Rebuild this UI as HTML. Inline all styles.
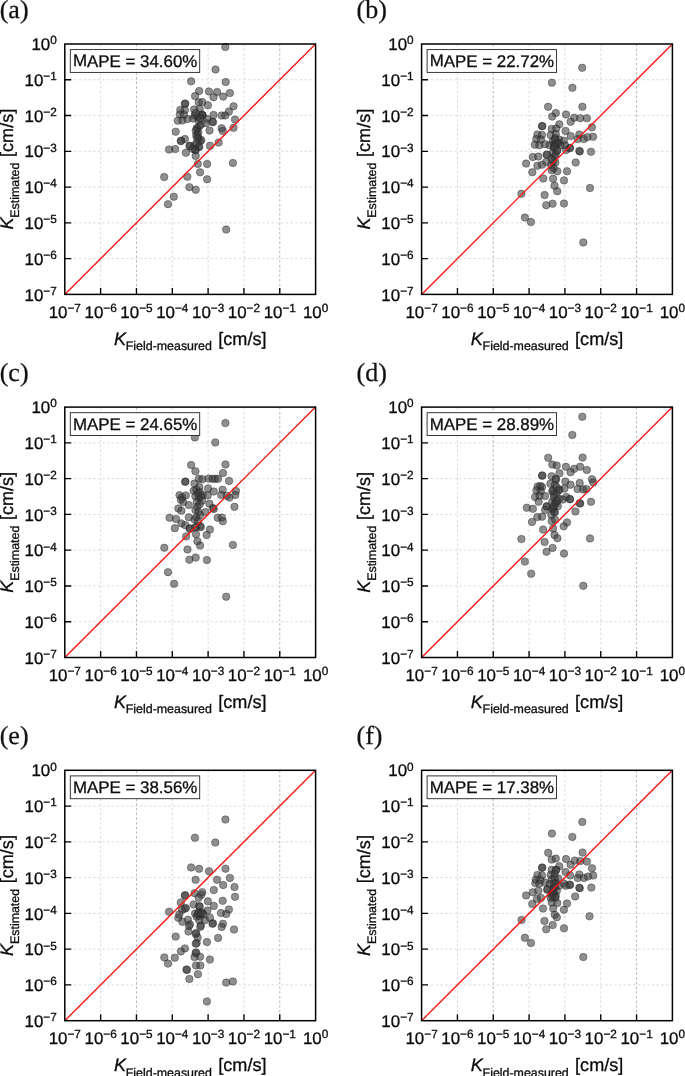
<!DOCTYPE html>
<html><head><meta charset="utf-8"><title>Figure</title>
<style>
html,body{margin:0;padding:0;background:#fff;}
body{width:685px;height:1076px;overflow:hidden;font-family:"Liberation Sans",sans-serif;}
svg{display:block;will-change:transform;}
.t{font-family:"Liberation Sans",sans-serif;fill:#0c0c0c;stroke:#0c0c0c;stroke-width:0.3;text-rendering:geometricPrecision;}
.s{font-family:"Liberation Serif",serif;fill:#111;stroke:#111;stroke-width:0.25;text-rendering:geometricPrecision;}
.g{stroke:#c6c6c6;stroke-width:0.62;stroke-dasharray:2.5 2.2;fill:none;}
.h{stroke:#8c8c8c;stroke-width:0.62;stroke-dasharray:2.5 2.2;fill:none;}
.k{stroke:#000;stroke-width:1.35;fill:none;}
.fr{stroke:#000;stroke-width:1.5;fill:none;}
.d{fill:#3a3a3a;fill-opacity:0.57;stroke:#1a1a1a;stroke-opacity:0.5;stroke-width:0.75;}
.r{stroke:#ff1212;stroke-width:1.35;fill:none;}
</style></head><body>
<svg width="685" height="1076" viewBox="0 0 685 1076">
<rect x="0" y="0" width="685" height="1076" fill="#fff"/>
<g id="panel-a">
<text class="s" x="-0.3" y="17.8" transform="rotate(.02 -0.3 17.8)" font-size="26">(a)</text>
<path class="g" d="M100.63 44V294.4M172.29 44V294.4M208.11 44V294.4M243.94 44V294.4M64.8 79.77H315.6M64.8 115.54H315.6M64.8 151.31H315.6M64.8 187.09H315.6M64.8 222.86H315.6M64.8 258.63H315.6"/>
<path class="h" d="M136.46 44V294.4M279.77 44V294.4"/>
<circle class="d" cx="225.3" cy="47" r="3.75"/>
<circle class="d" cx="215.5" cy="69.5" r="3.75"/>
<circle class="d" cx="191.1" cy="81.3" r="3.75"/>
<circle class="d" cx="225.7" cy="82" r="3.75"/>
<circle class="d" cx="199.2" cy="91" r="3.75"/>
<circle class="d" cx="208.9" cy="91.5" r="3.75"/>
<circle class="d" cx="217.1" cy="92" r="3.75"/>
<circle class="d" cx="229.9" cy="93.1" r="3.75"/>
<circle class="d" cx="195.1" cy="96.1" r="3.75"/>
<circle class="d" cx="213.5" cy="97.2" r="3.75"/>
<circle class="d" cx="223.2" cy="96.6" r="3.75"/>
<circle class="d" cx="184.9" cy="103.8" r="3.75"/>
<circle class="d" cx="185.2" cy="103.5" r="3.75"/>
<circle class="d" cx="198.7" cy="102.3" r="3.75"/>
<circle class="d" cx="202.3" cy="102.1" r="3.75"/>
<circle class="d" cx="207.9" cy="105.3" r="3.75"/>
<circle class="d" cx="180.3" cy="109.9" r="3.75"/>
<circle class="d" cx="184.9" cy="109.9" r="3.75"/>
<circle class="d" cx="194.1" cy="109.4" r="3.75"/>
<circle class="d" cx="199.7" cy="108.9" r="3.75"/>
<circle class="d" cx="179.8" cy="114.5" r="3.75"/>
<circle class="d" cx="183.9" cy="115" r="3.75"/>
<circle class="d" cx="177.8" cy="120.7" r="3.75"/>
<circle class="d" cx="182.4" cy="120.5" r="3.75"/>
<circle class="d" cx="187.5" cy="119.1" r="3.75"/>
<circle class="d" cx="202.3" cy="115" r="3.75"/>
<circle class="d" cx="202.8" cy="115.5" r="3.75"/>
<circle class="d" cx="201.8" cy="114.5" r="3.75"/>
<circle class="d" cx="194.6" cy="115.5" r="3.75"/>
<circle class="d" cx="197.7" cy="117.1" r="3.75"/>
<circle class="d" cx="193.1" cy="118.6" r="3.75"/>
<circle class="d" cx="198.7" cy="120.7" r="3.75"/>
<circle class="d" cx="195.7" cy="113" r="3.75"/>
<circle class="d" cx="200.3" cy="118.1" r="3.75"/>
<circle class="d" cx="213.5" cy="115" r="3.75"/>
<circle class="d" cx="221.7" cy="115.5" r="3.75"/>
<circle class="d" cx="225.3" cy="115.5" r="3.75"/>
<circle class="d" cx="228.9" cy="111.5" r="3.75"/>
<circle class="d" cx="233.5" cy="106.3" r="3.75"/>
<circle class="d" cx="207.4" cy="119.1" r="3.75"/>
<circle class="d" cx="205.9" cy="123.2" r="3.75"/>
<circle class="d" cx="213" cy="122.2" r="3.75"/>
<circle class="d" cx="212.5" cy="121.7" r="3.75"/>
<circle class="d" cx="200.8" cy="124.7" r="3.75"/>
<circle class="d" cx="196.7" cy="128.3" r="3.75"/>
<circle class="d" cx="197.2" cy="128.8" r="3.75"/>
<circle class="d" cx="198.2" cy="131.9" r="3.75"/>
<circle class="d" cx="196.2" cy="135.5" r="3.75"/>
<circle class="d" cx="198.7" cy="138.5" r="3.75"/>
<circle class="d" cx="200.3" cy="141.1" r="3.75"/>
<circle class="d" cx="201.3" cy="140.1" r="3.75"/>
<circle class="d" cx="199.2" cy="126.3" r="3.75"/>
<circle class="d" cx="195.7" cy="130.9" r="3.75"/>
<circle class="d" cx="197.7" cy="135" r="3.75"/>
<circle class="d" cx="197.2" cy="138" r="3.75"/>
<circle class="d" cx="209.5" cy="130.4" r="3.75"/>
<circle class="d" cx="221.7" cy="128.3" r="3.75"/>
<circle class="d" cx="222.7" cy="130.9" r="3.75"/>
<circle class="d" cx="235" cy="119.6" r="3.75"/>
<circle class="d" cx="233.5" cy="127.8" r="3.75"/>
<circle class="d" cx="175.7" cy="131.7" r="3.75"/>
<circle class="d" cx="184.9" cy="139" r="3.75"/>
<circle class="d" cx="180.8" cy="141.1" r="3.75"/>
<circle class="d" cx="181.1" cy="140.8" r="3.75"/>
<circle class="d" cx="189.5" cy="145.7" r="3.75"/>
<circle class="d" cx="190" cy="146.2" r="3.75"/>
<circle class="d" cx="194.6" cy="145.2" r="3.75"/>
<circle class="d" cx="199.2" cy="146.7" r="3.75"/>
<circle class="d" cx="198.7" cy="147.2" r="3.75"/>
<circle class="d" cx="195.7" cy="150.3" r="3.75"/>
<circle class="d" cx="195.1" cy="149.8" r="3.75"/>
<circle class="d" cx="192.6" cy="148.8" r="3.75"/>
<circle class="d" cx="196.7" cy="143.1" r="3.75"/>
<circle class="d" cx="210" cy="145.7" r="3.75"/>
<circle class="d" cx="218.6" cy="142.6" r="3.75"/>
<circle class="d" cx="175.2" cy="149.1" r="3.75"/>
<circle class="d" cx="169.1" cy="149.5" r="3.75"/>
<circle class="d" cx="185.9" cy="152.8" r="3.75"/>
<circle class="d" cx="195.7" cy="155.9" r="3.75"/>
<circle class="d" cx="197.8" cy="163.9" r="3.75"/>
<circle class="d" cx="207.1" cy="163.9" r="3.75"/>
<circle class="d" cx="232.9" cy="163" r="3.75"/>
<circle class="d" cx="200.1" cy="172.3" r="3.75"/>
<circle class="d" cx="187.3" cy="176.7" r="3.75"/>
<circle class="d" cx="207.1" cy="179.3" r="3.75"/>
<circle class="d" cx="164.2" cy="177" r="3.75"/>
<circle class="d" cx="189.4" cy="187.2" r="3.75"/>
<circle class="d" cx="195.7" cy="189.7" r="3.75"/>
<circle class="d" cx="173.8" cy="196.7" r="3.75"/>
<circle class="d" cx="168" cy="204.2" r="3.75"/>
<circle class="d" cx="226.2" cy="229.6" r="3.75"/>
<path class="r" d="M64.8 294.4L315.6 44"/>
<path class="k" d="M100.63 294.4V288M64.8 79.77H71.2M136.46 294.4V288M64.8 115.54H71.2M172.29 294.4V288M64.8 151.31H71.2M208.11 294.4V288M64.8 187.09H71.2M243.94 294.4V288M64.8 222.86H71.2M279.77 294.4V288M64.8 258.63H71.2"/>
<rect class="fr" x="64.8" y="44" width="250.8" height="250.4"/>
<text class="t" x="64.8" y="317.8" transform="rotate(.02 64.8 317.8)" text-anchor="middle" font-size="16.9">10<tspan dy="-5.8" font-size="11.8">−7</tspan></text>
<text class="t" x="56.8" y="300.6" transform="rotate(.02 56.8 300.6)" text-anchor="end" font-size="16.9">10<tspan dy="-5.8" font-size="11.8">−7</tspan></text>
<text class="t" x="100.63" y="317.8" transform="rotate(.02 100.63 317.8)" text-anchor="middle" font-size="16.9">10<tspan dy="-5.8" font-size="11.8">−6</tspan></text>
<text class="t" x="56.8" y="264.83" transform="rotate(.02 56.8 264.83)" text-anchor="end" font-size="16.9">10<tspan dy="-5.8" font-size="11.8">−6</tspan></text>
<text class="t" x="136.46" y="317.8" transform="rotate(.02 136.46 317.8)" text-anchor="middle" font-size="16.9">10<tspan dy="-5.8" font-size="11.8">−5</tspan></text>
<text class="t" x="56.8" y="229.06" transform="rotate(.02 56.8 229.06)" text-anchor="end" font-size="16.9">10<tspan dy="-5.8" font-size="11.8">−5</tspan></text>
<text class="t" x="172.29" y="317.8" transform="rotate(.02 172.29 317.8)" text-anchor="middle" font-size="16.9">10<tspan dy="-5.8" font-size="11.8">−4</tspan></text>
<text class="t" x="56.8" y="193.29" transform="rotate(.02 56.8 193.29)" text-anchor="end" font-size="16.9">10<tspan dy="-5.8" font-size="11.8">−4</tspan></text>
<text class="t" x="208.11" y="317.8" transform="rotate(.02 208.11 317.8)" text-anchor="middle" font-size="16.9">10<tspan dy="-5.8" font-size="11.8">−3</tspan></text>
<text class="t" x="56.8" y="157.51" transform="rotate(.02 56.8 157.51)" text-anchor="end" font-size="16.9">10<tspan dy="-5.8" font-size="11.8">−3</tspan></text>
<text class="t" x="243.94" y="317.8" transform="rotate(.02 243.94 317.8)" text-anchor="middle" font-size="16.9">10<tspan dy="-5.8" font-size="11.8">−2</tspan></text>
<text class="t" x="56.8" y="121.74" transform="rotate(.02 56.8 121.74)" text-anchor="end" font-size="16.9">10<tspan dy="-5.8" font-size="11.8">−2</tspan></text>
<text class="t" x="279.77" y="317.8" transform="rotate(.02 279.77 317.8)" text-anchor="middle" font-size="16.9">10<tspan dy="-5.8" font-size="11.8">−1</tspan></text>
<text class="t" x="56.8" y="85.97" transform="rotate(.02 56.8 85.97)" text-anchor="end" font-size="16.9">10<tspan dy="-5.8" font-size="11.8">−1</tspan></text>
<text class="t" x="315.6" y="317.8" transform="rotate(.02 315.6 317.8)" text-anchor="middle" font-size="16.9">10<tspan dy="-5.8" font-size="11.8">0</tspan></text>
<text class="t" x="56.8" y="50.2" transform="rotate(.02 56.8 50.2)" text-anchor="end" font-size="16.9">10<tspan dy="-5.8" font-size="11.8">0</tspan></text>
<rect x="70.3" y="49.6" width="129.4" height="22.8" fill="#fff" stroke="#222" stroke-width="0.9"/>
<text class="t" x="72.9" y="66.5" transform="rotate(.02 72.9 66.5)" font-size="16.9">MAPE = 34.60%</text>
<text class="t" x="113.9" y="344.7" transform="rotate(.02 113.9 344.7)" font-size="18.1" font-style="italic">K</text>
<text class="t" x="125.8" y="350.3" transform="rotate(.02 125.8 350.3)" font-size="12.4">Field-measured</text>
<text class="t" x="218.3" y="344.7" transform="rotate(.02 218.3 344.7)" font-size="18.1">[cm/s]</text>
<g transform="translate(13.3 169.2) rotate(-90)">
<text class="t" x="-60.4" y="0" font-size="18.1" font-style="italic">K</text>
<text class="t" x="-48.5" y="5.9" font-size="12.4">Estimated</text>
<text class="t" x="12.2" y="0" font-size="18.1">[cm/s]</text>
</g>
</g>
<g id="panel-b">
<text class="s" x="356.5" y="17.8" transform="rotate(.02 356.5 17.8)" font-size="26">(b)</text>
<path class="g" d="M457.43 44V294.4M529.09 44V294.4M564.91 44V294.4M600.74 44V294.4M421.6 79.77H672.4M421.6 115.54H672.4M421.6 151.31H672.4M421.6 187.09H672.4M421.6 222.86H672.4M421.6 258.63H672.4"/>
<path class="h" d="M493.26 44V294.4M636.57 44V294.4"/>
<circle class="d" cx="582.2" cy="67.8" r="3.75"/>
<circle class="d" cx="551.9" cy="82.7" r="3.75"/>
<circle class="d" cx="572.4" cy="87.8" r="3.75"/>
<circle class="d" cx="548.1" cy="106.8" r="3.75"/>
<circle class="d" cx="582.4" cy="106.8" r="3.75"/>
<circle class="d" cx="591.9" cy="127.3" r="3.75"/>
<circle class="d" cx="593.1" cy="136.8" r="3.75"/>
<circle class="d" cx="591" cy="151.8" r="3.75"/>
<circle class="d" cx="555.8" cy="113.1" r="3.75"/>
<circle class="d" cx="552.2" cy="116.6" r="3.75"/>
<circle class="d" cx="566" cy="114.6" r="3.75"/>
<circle class="d" cx="574.2" cy="117.7" r="3.75"/>
<circle class="d" cx="570.6" cy="121.8" r="3.75"/>
<circle class="d" cx="580.3" cy="118.2" r="3.75"/>
<circle class="d" cx="586.9" cy="118.2" r="3.75"/>
<circle class="d" cx="542" cy="126.3" r="3.75"/>
<circle class="d" cx="542.3" cy="126" r="3.75"/>
<circle class="d" cx="559.3" cy="124.3" r="3.75"/>
<circle class="d" cx="551.7" cy="128.9" r="3.75"/>
<circle class="d" cx="556.3" cy="128.4" r="3.75"/>
<circle class="d" cx="565.5" cy="130.9" r="3.75"/>
<circle class="d" cx="570.6" cy="136.1" r="3.75"/>
<circle class="d" cx="579.3" cy="134.5" r="3.75"/>
<circle class="d" cx="577.7" cy="139.1" r="3.75"/>
<circle class="d" cx="583.9" cy="139.1" r="3.75"/>
<circle class="d" cx="587.4" cy="137.1" r="3.75"/>
<circle class="d" cx="537.4" cy="134.5" r="3.75"/>
<circle class="d" cx="542" cy="135" r="3.75"/>
<circle class="d" cx="536.3" cy="139.1" r="3.75"/>
<circle class="d" cx="540.9" cy="139.6" r="3.75"/>
<circle class="d" cx="534.8" cy="144.7" r="3.75"/>
<circle class="d" cx="539.4" cy="145.3" r="3.75"/>
<circle class="d" cx="545" cy="144.2" r="3.75"/>
<circle class="d" cx="550.7" cy="135" r="3.75"/>
<circle class="d" cx="555.8" cy="134" r="3.75"/>
<circle class="d" cx="559.3" cy="139.6" r="3.75"/>
<circle class="d" cx="552.7" cy="141.2" r="3.75"/>
<circle class="d" cx="556.3" cy="143.7" r="3.75"/>
<circle class="d" cx="549.6" cy="145.3" r="3.75"/>
<circle class="d" cx="560.4" cy="145.3" r="3.75"/>
<circle class="d" cx="553.7" cy="147.8" r="3.75"/>
<circle class="d" cx="557.3" cy="150.4" r="3.75"/>
<circle class="d" cx="552.7" cy="152.9" r="3.75"/>
<circle class="d" cx="546.6" cy="154.5" r="3.75"/>
<circle class="d" cx="547.1" cy="155" r="3.75"/>
<circle class="d" cx="554.7" cy="156.5" r="3.75"/>
<circle class="d" cx="551.7" cy="159" r="3.75"/>
<circle class="d" cx="555.3" cy="162.6" r="3.75"/>
<circle class="d" cx="551.2" cy="165.2" r="3.75"/>
<circle class="d" cx="553.7" cy="168.2" r="3.75"/>
<circle class="d" cx="555.3" cy="138.1" r="3.75"/>
<circle class="d" cx="554.2" cy="144.7" r="3.75"/>
<circle class="d" cx="555.8" cy="153.9" r="3.75"/>
<circle class="d" cx="553.2" cy="161.1" r="3.75"/>
<circle class="d" cx="558.3" cy="142.7" r="3.75"/>
<circle class="d" cx="555" cy="139.5" r="3.75"/>
<circle class="d" cx="556.5" cy="143.5" r="3.75"/>
<circle class="d" cx="554.5" cy="147" r="3.75"/>
<circle class="d" cx="557" cy="150.5" r="3.75"/>
<circle class="d" cx="563.9" cy="140.7" r="3.75"/>
<circle class="d" cx="565" cy="145.3" r="3.75"/>
<circle class="d" cx="570.1" cy="147.8" r="3.75"/>
<circle class="d" cx="569.6" cy="148.3" r="3.75"/>
<circle class="d" cx="566" cy="149.9" r="3.75"/>
<circle class="d" cx="579.8" cy="151.4" r="3.75"/>
<circle class="d" cx="579.3" cy="150.9" r="3.75"/>
<circle class="d" cx="532.8" cy="157" r="3.75"/>
<circle class="d" cx="538.4" cy="156.5" r="3.75"/>
<circle class="d" cx="526.1" cy="163.6" r="3.75"/>
<circle class="d" cx="537.4" cy="165.7" r="3.75"/>
<circle class="d" cx="542" cy="164.7" r="3.75"/>
<circle class="d" cx="546.1" cy="162.1" r="3.75"/>
<circle class="d" cx="575.7" cy="162.6" r="3.75"/>
<circle class="d" cx="532.3" cy="172.3" r="3.75"/>
<circle class="d" cx="551.7" cy="170.3" r="3.75"/>
<circle class="d" cx="557.3" cy="171.3" r="3.75"/>
<circle class="d" cx="567" cy="171.3" r="3.75"/>
<circle class="d" cx="543.3" cy="178.5" r="3.75"/>
<circle class="d" cx="553.1" cy="178.8" r="3.75"/>
<circle class="d" cx="564" cy="180.4" r="3.75"/>
<circle class="d" cx="554.5" cy="185.8" r="3.75"/>
<circle class="d" cx="557.2" cy="191.2" r="3.75"/>
<circle class="d" cx="590" cy="188" r="3.75"/>
<circle class="d" cx="521.4" cy="193.8" r="3.75"/>
<circle class="d" cx="544.6" cy="195" r="3.75"/>
<circle class="d" cx="552.6" cy="203.7" r="3.75"/>
<circle class="d" cx="546.2" cy="205.2" r="3.75"/>
<circle class="d" cx="564" cy="203.6" r="3.75"/>
<circle class="d" cx="524.9" cy="217.6" r="3.75"/>
<circle class="d" cx="530.9" cy="222" r="3.75"/>
<circle class="d" cx="583.3" cy="242.4" r="3.75"/>
<path class="r" d="M421.6 294.4L672.4 44"/>
<path class="k" d="M457.43 294.4V288M421.6 79.77H428M493.26 294.4V288M421.6 115.54H428M529.09 294.4V288M421.6 151.31H428M564.91 294.4V288M421.6 187.09H428M600.74 294.4V288M421.6 222.86H428M636.57 294.4V288M421.6 258.63H428"/>
<rect class="fr" x="421.6" y="44" width="250.8" height="250.4"/>
<text class="t" x="421.6" y="317.8" transform="rotate(.02 421.6 317.8)" text-anchor="middle" font-size="16.9">10<tspan dy="-5.8" font-size="11.8">−7</tspan></text>
<text class="t" x="413.6" y="300.6" transform="rotate(.02 413.6 300.6)" text-anchor="end" font-size="16.9">10<tspan dy="-5.8" font-size="11.8">−7</tspan></text>
<text class="t" x="457.43" y="317.8" transform="rotate(.02 457.43 317.8)" text-anchor="middle" font-size="16.9">10<tspan dy="-5.8" font-size="11.8">−6</tspan></text>
<text class="t" x="413.6" y="264.83" transform="rotate(.02 413.6 264.83)" text-anchor="end" font-size="16.9">10<tspan dy="-5.8" font-size="11.8">−6</tspan></text>
<text class="t" x="493.26" y="317.8" transform="rotate(.02 493.26 317.8)" text-anchor="middle" font-size="16.9">10<tspan dy="-5.8" font-size="11.8">−5</tspan></text>
<text class="t" x="413.6" y="229.06" transform="rotate(.02 413.6 229.06)" text-anchor="end" font-size="16.9">10<tspan dy="-5.8" font-size="11.8">−5</tspan></text>
<text class="t" x="529.09" y="317.8" transform="rotate(.02 529.09 317.8)" text-anchor="middle" font-size="16.9">10<tspan dy="-5.8" font-size="11.8">−4</tspan></text>
<text class="t" x="413.6" y="193.29" transform="rotate(.02 413.6 193.29)" text-anchor="end" font-size="16.9">10<tspan dy="-5.8" font-size="11.8">−4</tspan></text>
<text class="t" x="564.91" y="317.8" transform="rotate(.02 564.91 317.8)" text-anchor="middle" font-size="16.9">10<tspan dy="-5.8" font-size="11.8">−3</tspan></text>
<text class="t" x="413.6" y="157.51" transform="rotate(.02 413.6 157.51)" text-anchor="end" font-size="16.9">10<tspan dy="-5.8" font-size="11.8">−3</tspan></text>
<text class="t" x="600.74" y="317.8" transform="rotate(.02 600.74 317.8)" text-anchor="middle" font-size="16.9">10<tspan dy="-5.8" font-size="11.8">−2</tspan></text>
<text class="t" x="413.6" y="121.74" transform="rotate(.02 413.6 121.74)" text-anchor="end" font-size="16.9">10<tspan dy="-5.8" font-size="11.8">−2</tspan></text>
<text class="t" x="636.57" y="317.8" transform="rotate(.02 636.57 317.8)" text-anchor="middle" font-size="16.9">10<tspan dy="-5.8" font-size="11.8">−1</tspan></text>
<text class="t" x="413.6" y="85.97" transform="rotate(.02 413.6 85.97)" text-anchor="end" font-size="16.9">10<tspan dy="-5.8" font-size="11.8">−1</tspan></text>
<text class="t" x="672.4" y="317.8" transform="rotate(.02 672.4 317.8)" text-anchor="middle" font-size="16.9">10<tspan dy="-5.8" font-size="11.8">0</tspan></text>
<text class="t" x="413.6" y="50.2" transform="rotate(.02 413.6 50.2)" text-anchor="end" font-size="16.9">10<tspan dy="-5.8" font-size="11.8">0</tspan></text>
<rect x="427.1" y="49.6" width="129.4" height="22.8" fill="#fff" stroke="#222" stroke-width="0.9"/>
<text class="t" x="429.7" y="66.5" transform="rotate(.02 429.7 66.5)" font-size="16.9">MAPE = 22.72%</text>
<text class="t" x="470.7" y="344.7" transform="rotate(.02 470.7 344.7)" font-size="18.1" font-style="italic">K</text>
<text class="t" x="482.6" y="350.3" transform="rotate(.02 482.6 350.3)" font-size="12.4">Field-measured</text>
<text class="t" x="575.1" y="344.7" transform="rotate(.02 575.1 344.7)" font-size="18.1">[cm/s]</text>
<g transform="translate(370.1 169.2) rotate(-90)">
<text class="t" x="-60.4" y="0" font-size="18.1" font-style="italic">K</text>
<text class="t" x="-48.5" y="5.9" font-size="12.4">Estimated</text>
<text class="t" x="12.2" y="0" font-size="18.1">[cm/s]</text>
</g>
</g>
<g id="panel-c">
<text class="s" x="-0.3" y="380.9" transform="rotate(.02 -0.3 380.9)" font-size="26">(c)</text>
<path class="g" d="M100.63 407.1V657.5M172.29 407.1V657.5M208.11 407.1V657.5M243.94 407.1V657.5M64.8 442.87H315.6M64.8 478.64H315.6M64.8 514.41H315.6M64.8 550.19H315.6M64.8 585.96H315.6M64.8 621.73H315.6"/>
<path class="h" d="M136.46 407.1V657.5M279.77 407.1V657.5"/>
<circle class="d" cx="225.4" cy="423.1" r="3.75"/>
<circle class="d" cx="194.9" cy="437.4" r="3.75"/>
<circle class="d" cx="215.3" cy="442.4" r="3.75"/>
<circle class="d" cx="191.1" cy="465" r="3.75"/>
<circle class="d" cx="225.5" cy="464.5" r="3.75"/>
<circle class="d" cx="195.4" cy="471.3" r="3.75"/>
<circle class="d" cx="223" cy="473.1" r="3.75"/>
<circle class="d" cx="198.9" cy="478.8" r="3.75"/>
<circle class="d" cx="202.4" cy="479.2" r="3.75"/>
<circle class="d" cx="208.5" cy="478.6" r="3.75"/>
<circle class="d" cx="212.5" cy="478.8" r="3.75"/>
<circle class="d" cx="215.1" cy="478.8" r="3.75"/>
<circle class="d" cx="218" cy="478.8" r="3.75"/>
<circle class="d" cx="229.1" cy="480.9" r="3.75"/>
<circle class="d" cx="185.2" cy="481.8" r="3.75"/>
<circle class="d" cx="185.4" cy="481.6" r="3.75"/>
<circle class="d" cx="194.5" cy="483.6" r="3.75"/>
<circle class="d" cx="199.3" cy="487.1" r="3.75"/>
<circle class="d" cx="196.3" cy="489.7" r="3.75"/>
<circle class="d" cx="193.6" cy="490.8" r="3.75"/>
<circle class="d" cx="199.8" cy="491.9" r="3.75"/>
<circle class="d" cx="202.8" cy="495" r="3.75"/>
<circle class="d" cx="195.4" cy="496.3" r="3.75"/>
<circle class="d" cx="198.9" cy="498" r="3.75"/>
<circle class="d" cx="202" cy="500.7" r="3.75"/>
<circle class="d" cx="196.7" cy="502" r="3.75"/>
<circle class="d" cx="199.8" cy="504.2" r="3.75"/>
<circle class="d" cx="197.2" cy="506.8" r="3.75"/>
<circle class="d" cx="195.4" cy="509.9" r="3.75"/>
<circle class="d" cx="198.5" cy="512" r="3.75"/>
<circle class="d" cx="200.2" cy="515.1" r="3.75"/>
<circle class="d" cx="196.3" cy="517.3" r="3.75"/>
<circle class="d" cx="194.5" cy="519.5" r="3.75"/>
<circle class="d" cx="198" cy="521.2" r="3.75"/>
<circle class="d" cx="200.7" cy="496.3" r="3.75"/>
<circle class="d" cx="198" cy="493.6" r="3.75"/>
<circle class="d" cx="208.1" cy="488.4" r="3.75"/>
<circle class="d" cx="213.8" cy="491.5" r="3.75"/>
<circle class="d" cx="207.7" cy="495.4" r="3.75"/>
<circle class="d" cx="222.6" cy="489.7" r="3.75"/>
<circle class="d" cx="221.2" cy="495" r="3.75"/>
<circle class="d" cx="226.9" cy="495.8" r="3.75"/>
<circle class="d" cx="179.5" cy="495.2" r="3.75"/>
<circle class="d" cx="182.1" cy="497.3" r="3.75"/>
<circle class="d" cx="185.8" cy="495.4" r="3.75"/>
<circle class="d" cx="183.1" cy="502" r="3.75"/>
<circle class="d" cx="180.9" cy="499.8" r="3.75"/>
<circle class="d" cx="188.8" cy="505" r="3.75"/>
<circle class="d" cx="209.4" cy="503.7" r="3.75"/>
<circle class="d" cx="212.9" cy="508.1" r="3.75"/>
<circle class="d" cx="213.8" cy="509" r="3.75"/>
<circle class="d" cx="205.5" cy="512" r="3.75"/>
<circle class="d" cx="178.3" cy="508.5" r="3.75"/>
<circle class="d" cx="181.4" cy="510.7" r="3.75"/>
<circle class="d" cx="188.8" cy="517.3" r="3.75"/>
<circle class="d" cx="217.7" cy="517.7" r="3.75"/>
<circle class="d" cx="221.9" cy="517.5" r="3.75"/>
<circle class="d" cx="222.8" cy="521.2" r="3.75"/>
<circle class="d" cx="176.1" cy="519" r="3.75"/>
<circle class="d" cx="169.6" cy="517.7" r="3.75"/>
<circle class="d" cx="181.4" cy="523.4" r="3.75"/>
<circle class="d" cx="185.3" cy="525.2" r="3.75"/>
<circle class="d" cx="174.8" cy="528.2" r="3.75"/>
<circle class="d" cx="189.7" cy="528.2" r="3.75"/>
<circle class="d" cx="196.3" cy="526.9" r="3.75"/>
<circle class="d" cx="200.2" cy="526.1" r="3.75"/>
<circle class="d" cx="209.9" cy="529.6" r="3.75"/>
<circle class="d" cx="236" cy="491" r="3.75"/>
<circle class="d" cx="235.3" cy="495" r="3.75"/>
<circle class="d" cx="229.5" cy="497.6" r="3.75"/>
<circle class="d" cx="234.5" cy="506.8" r="3.75"/>
<circle class="d" cx="189.9" cy="528.9" r="3.75"/>
<circle class="d" cx="200.8" cy="527.2" r="3.75"/>
<circle class="d" cx="195" cy="527.5" r="3.75"/>
<circle class="d" cx="196" cy="534.2" r="3.75"/>
<circle class="d" cx="206.6" cy="534.9" r="3.75"/>
<circle class="d" cx="186.1" cy="536.4" r="3.75"/>
<circle class="d" cx="197.4" cy="541.2" r="3.75"/>
<circle class="d" cx="200.1" cy="545.6" r="3.75"/>
<circle class="d" cx="232.9" cy="544.9" r="3.75"/>
<circle class="d" cx="164.3" cy="547.8" r="3.75"/>
<circle class="d" cx="187.5" cy="549.5" r="3.75"/>
<circle class="d" cx="195.7" cy="557.6" r="3.75"/>
<circle class="d" cx="189.4" cy="559.7" r="3.75"/>
<circle class="d" cx="206.9" cy="560" r="3.75"/>
<circle class="d" cx="168" cy="572.2" r="3.75"/>
<circle class="d" cx="174.1" cy="583.8" r="3.75"/>
<circle class="d" cx="226.2" cy="596.7" r="3.75"/>
<path class="r" d="M64.8 657.5L315.6 407.1"/>
<path class="k" d="M100.63 657.5V651.1M64.8 442.87H71.2M136.46 657.5V651.1M64.8 478.64H71.2M172.29 657.5V651.1M64.8 514.41H71.2M208.11 657.5V651.1M64.8 550.19H71.2M243.94 657.5V651.1M64.8 585.96H71.2M279.77 657.5V651.1M64.8 621.73H71.2"/>
<rect class="fr" x="64.8" y="407.1" width="250.8" height="250.4"/>
<text class="t" x="64.8" y="680.9" transform="rotate(.02 64.8 680.9)" text-anchor="middle" font-size="16.9">10<tspan dy="-5.8" font-size="11.8">−7</tspan></text>
<text class="t" x="56.8" y="663.7" transform="rotate(.02 56.8 663.7)" text-anchor="end" font-size="16.9">10<tspan dy="-5.8" font-size="11.8">−7</tspan></text>
<text class="t" x="100.63" y="680.9" transform="rotate(.02 100.63 680.9)" text-anchor="middle" font-size="16.9">10<tspan dy="-5.8" font-size="11.8">−6</tspan></text>
<text class="t" x="56.8" y="627.93" transform="rotate(.02 56.8 627.93)" text-anchor="end" font-size="16.9">10<tspan dy="-5.8" font-size="11.8">−6</tspan></text>
<text class="t" x="136.46" y="680.9" transform="rotate(.02 136.46 680.9)" text-anchor="middle" font-size="16.9">10<tspan dy="-5.8" font-size="11.8">−5</tspan></text>
<text class="t" x="56.8" y="592.16" transform="rotate(.02 56.8 592.16)" text-anchor="end" font-size="16.9">10<tspan dy="-5.8" font-size="11.8">−5</tspan></text>
<text class="t" x="172.29" y="680.9" transform="rotate(.02 172.29 680.9)" text-anchor="middle" font-size="16.9">10<tspan dy="-5.8" font-size="11.8">−4</tspan></text>
<text class="t" x="56.8" y="556.39" transform="rotate(.02 56.8 556.39)" text-anchor="end" font-size="16.9">10<tspan dy="-5.8" font-size="11.8">−4</tspan></text>
<text class="t" x="208.11" y="680.9" transform="rotate(.02 208.11 680.9)" text-anchor="middle" font-size="16.9">10<tspan dy="-5.8" font-size="11.8">−3</tspan></text>
<text class="t" x="56.8" y="520.61" transform="rotate(.02 56.8 520.61)" text-anchor="end" font-size="16.9">10<tspan dy="-5.8" font-size="11.8">−3</tspan></text>
<text class="t" x="243.94" y="680.9" transform="rotate(.02 243.94 680.9)" text-anchor="middle" font-size="16.9">10<tspan dy="-5.8" font-size="11.8">−2</tspan></text>
<text class="t" x="56.8" y="484.84" transform="rotate(.02 56.8 484.84)" text-anchor="end" font-size="16.9">10<tspan dy="-5.8" font-size="11.8">−2</tspan></text>
<text class="t" x="279.77" y="680.9" transform="rotate(.02 279.77 680.9)" text-anchor="middle" font-size="16.9">10<tspan dy="-5.8" font-size="11.8">−1</tspan></text>
<text class="t" x="56.8" y="449.07" transform="rotate(.02 56.8 449.07)" text-anchor="end" font-size="16.9">10<tspan dy="-5.8" font-size="11.8">−1</tspan></text>
<text class="t" x="315.6" y="680.9" transform="rotate(.02 315.6 680.9)" text-anchor="middle" font-size="16.9">10<tspan dy="-5.8" font-size="11.8">0</tspan></text>
<text class="t" x="56.8" y="413.3" transform="rotate(.02 56.8 413.3)" text-anchor="end" font-size="16.9">10<tspan dy="-5.8" font-size="11.8">0</tspan></text>
<rect x="70.3" y="412.7" width="129.4" height="22.8" fill="#fff" stroke="#222" stroke-width="0.9"/>
<text class="t" x="72.9" y="429.6" transform="rotate(.02 72.9 429.6)" font-size="16.9">MAPE = 24.65%</text>
<text class="t" x="113.9" y="707.8" transform="rotate(.02 113.9 707.8)" font-size="18.1" font-style="italic">K</text>
<text class="t" x="125.8" y="713.4" transform="rotate(.02 125.8 713.4)" font-size="12.4">Field-measured</text>
<text class="t" x="218.3" y="707.8" transform="rotate(.02 218.3 707.8)" font-size="18.1">[cm/s]</text>
<g transform="translate(13.3 532.3) rotate(-90)">
<text class="t" x="-60.4" y="0" font-size="18.1" font-style="italic">K</text>
<text class="t" x="-48.5" y="5.9" font-size="12.4">Estimated</text>
<text class="t" x="12.2" y="0" font-size="18.1">[cm/s]</text>
</g>
</g>
<g id="panel-d">
<text class="s" x="356.5" y="380.9" transform="rotate(.02 356.5 380.9)" font-size="26">(d)</text>
<path class="g" d="M457.43 407.1V657.5M529.09 407.1V657.5M564.91 407.1V657.5M600.74 407.1V657.5M421.6 442.87H672.4M421.6 478.64H672.4M421.6 514.41H672.4M421.6 550.19H672.4M421.6 585.96H672.4M421.6 621.73H672.4"/>
<path class="h" d="M493.26 407.1V657.5M636.57 407.1V657.5"/>
<circle class="d" cx="582.3" cy="416.7" r="3.75"/>
<circle class="d" cx="572.3" cy="434.9" r="3.75"/>
<circle class="d" cx="548.2" cy="457.8" r="3.75"/>
<circle class="d" cx="582.6" cy="457.6" r="3.75"/>
<circle class="d" cx="552.3" cy="464.6" r="3.75"/>
<circle class="d" cx="556.7" cy="465.6" r="3.75"/>
<circle class="d" cx="565.9" cy="466.8" r="3.75"/>
<circle class="d" cx="574.2" cy="468.8" r="3.75"/>
<circle class="d" cx="580.1" cy="466.8" r="3.75"/>
<circle class="d" cx="586.9" cy="470" r="3.75"/>
<circle class="d" cx="570.6" cy="472.2" r="3.75"/>
<circle class="d" cx="592" cy="479.2" r="3.75"/>
<circle class="d" cx="593.2" cy="482.4" r="3.75"/>
<circle class="d" cx="542.1" cy="475.7" r="3.75"/>
<circle class="d" cx="542.3" cy="475.4" r="3.75"/>
<circle class="d" cx="559.4" cy="473.3" r="3.75"/>
<circle class="d" cx="551.5" cy="476.2" r="3.75"/>
<circle class="d" cx="556.1" cy="479.5" r="3.75"/>
<circle class="d" cx="555.7" cy="479" r="3.75"/>
<circle class="d" cx="565.3" cy="481.6" r="3.75"/>
<circle class="d" cx="570.5" cy="484.7" r="3.75"/>
<circle class="d" cx="579.7" cy="483" r="3.75"/>
<circle class="d" cx="577.6" cy="489.1" r="3.75"/>
<circle class="d" cx="583.2" cy="489.5" r="3.75"/>
<circle class="d" cx="586.3" cy="489.1" r="3.75"/>
<circle class="d" cx="550.4" cy="483.8" r="3.75"/>
<circle class="d" cx="537.7" cy="486.5" r="3.75"/>
<circle class="d" cx="542.1" cy="486.9" r="3.75"/>
<circle class="d" cx="540.3" cy="486" r="3.75"/>
<circle class="d" cx="536.4" cy="490.4" r="3.75"/>
<circle class="d" cx="540.8" cy="491.3" r="3.75"/>
<circle class="d" cx="535.1" cy="497" r="3.75"/>
<circle class="d" cx="539.5" cy="495.7" r="3.75"/>
<circle class="d" cx="545.1" cy="496.1" r="3.75"/>
<circle class="d" cx="538.6" cy="501.8" r="3.75"/>
<circle class="d" cx="554.8" cy="485.1" r="3.75"/>
<circle class="d" cx="559.6" cy="489.5" r="3.75"/>
<circle class="d" cx="558.7" cy="490.4" r="3.75"/>
<circle class="d" cx="552.2" cy="491.3" r="3.75"/>
<circle class="d" cx="553" cy="490.4" r="3.75"/>
<circle class="d" cx="556.5" cy="493.9" r="3.75"/>
<circle class="d" cx="553.9" cy="497.4" r="3.75"/>
<circle class="d" cx="559.2" cy="498.7" r="3.75"/>
<circle class="d" cx="552.2" cy="501.8" r="3.75"/>
<circle class="d" cx="555.7" cy="503.5" r="3.75"/>
<circle class="d" cx="555.2" cy="502.7" r="3.75"/>
<circle class="d" cx="557.8" cy="506.2" r="3.75"/>
<circle class="d" cx="552.2" cy="508.8" r="3.75"/>
<circle class="d" cx="553" cy="509.2" r="3.75"/>
<circle class="d" cx="554.8" cy="512.3" r="3.75"/>
<circle class="d" cx="554.3" cy="511.9" r="3.75"/>
<circle class="d" cx="551.3" cy="514.9" r="3.75"/>
<circle class="d" cx="556.5" cy="486.9" r="3.75"/>
<circle class="d" cx="553.9" cy="494.3" r="3.75"/>
<circle class="d" cx="557.4" cy="500.9" r="3.75"/>
<circle class="d" cx="553.9" cy="506.2" r="3.75"/>
<circle class="d" cx="564.4" cy="488.6" r="3.75"/>
<circle class="d" cx="566.2" cy="497" r="3.75"/>
<circle class="d" cx="562.7" cy="499.6" r="3.75"/>
<circle class="d" cx="570.1" cy="499.3" r="3.75"/>
<circle class="d" cx="569.7" cy="499" r="3.75"/>
<circle class="d" cx="546.5" cy="506.6" r="3.75"/>
<circle class="d" cx="546.9" cy="506.2" r="3.75"/>
<circle class="d" cx="545.1" cy="510.1" r="3.75"/>
<circle class="d" cx="526.8" cy="507.7" r="3.75"/>
<circle class="d" cx="532.9" cy="508.8" r="3.75"/>
<circle class="d" cx="580.2" cy="503.5" r="3.75"/>
<circle class="d" cx="579.7" cy="503.2" r="3.75"/>
<circle class="d" cx="575.4" cy="511.4" r="3.75"/>
<circle class="d" cx="537.3" cy="517.1" r="3.75"/>
<circle class="d" cx="542.1" cy="516.7" r="3.75"/>
<circle class="d" cx="532" cy="521.9" r="3.75"/>
<circle class="d" cx="551.7" cy="521.1" r="3.75"/>
<circle class="d" cx="555.2" cy="519.7" r="3.75"/>
<circle class="d" cx="567" cy="522.4" r="3.75"/>
<circle class="d" cx="591" cy="501.8" r="3.75"/>
<circle class="d" cx="563.7" cy="526.3" r="3.75"/>
<circle class="d" cx="543.1" cy="529.6" r="3.75"/>
<circle class="d" cx="553.1" cy="528.5" r="3.75"/>
<circle class="d" cx="554.5" cy="535" r="3.75"/>
<circle class="d" cx="557.4" cy="538.2" r="3.75"/>
<circle class="d" cx="590" cy="538.4" r="3.75"/>
<circle class="d" cx="521.4" cy="539.1" r="3.75"/>
<circle class="d" cx="544.6" cy="542" r="3.75"/>
<circle class="d" cx="552.6" cy="547.9" r="3.75"/>
<circle class="d" cx="546.5" cy="551.8" r="3.75"/>
<circle class="d" cx="564" cy="553.6" r="3.75"/>
<circle class="d" cx="524.9" cy="561.6" r="3.75"/>
<circle class="d" cx="531.2" cy="573.7" r="3.75"/>
<circle class="d" cx="583.3" cy="585.8" r="3.75"/>
<path class="r" d="M421.6 657.5L672.4 407.1"/>
<path class="k" d="M457.43 657.5V651.1M421.6 442.87H428M493.26 657.5V651.1M421.6 478.64H428M529.09 657.5V651.1M421.6 514.41H428M564.91 657.5V651.1M421.6 550.19H428M600.74 657.5V651.1M421.6 585.96H428M636.57 657.5V651.1M421.6 621.73H428"/>
<rect class="fr" x="421.6" y="407.1" width="250.8" height="250.4"/>
<text class="t" x="421.6" y="680.9" transform="rotate(.02 421.6 680.9)" text-anchor="middle" font-size="16.9">10<tspan dy="-5.8" font-size="11.8">−7</tspan></text>
<text class="t" x="413.6" y="663.7" transform="rotate(.02 413.6 663.7)" text-anchor="end" font-size="16.9">10<tspan dy="-5.8" font-size="11.8">−7</tspan></text>
<text class="t" x="457.43" y="680.9" transform="rotate(.02 457.43 680.9)" text-anchor="middle" font-size="16.9">10<tspan dy="-5.8" font-size="11.8">−6</tspan></text>
<text class="t" x="413.6" y="627.93" transform="rotate(.02 413.6 627.93)" text-anchor="end" font-size="16.9">10<tspan dy="-5.8" font-size="11.8">−6</tspan></text>
<text class="t" x="493.26" y="680.9" transform="rotate(.02 493.26 680.9)" text-anchor="middle" font-size="16.9">10<tspan dy="-5.8" font-size="11.8">−5</tspan></text>
<text class="t" x="413.6" y="592.16" transform="rotate(.02 413.6 592.16)" text-anchor="end" font-size="16.9">10<tspan dy="-5.8" font-size="11.8">−5</tspan></text>
<text class="t" x="529.09" y="680.9" transform="rotate(.02 529.09 680.9)" text-anchor="middle" font-size="16.9">10<tspan dy="-5.8" font-size="11.8">−4</tspan></text>
<text class="t" x="413.6" y="556.39" transform="rotate(.02 413.6 556.39)" text-anchor="end" font-size="16.9">10<tspan dy="-5.8" font-size="11.8">−4</tspan></text>
<text class="t" x="564.91" y="680.9" transform="rotate(.02 564.91 680.9)" text-anchor="middle" font-size="16.9">10<tspan dy="-5.8" font-size="11.8">−3</tspan></text>
<text class="t" x="413.6" y="520.61" transform="rotate(.02 413.6 520.61)" text-anchor="end" font-size="16.9">10<tspan dy="-5.8" font-size="11.8">−3</tspan></text>
<text class="t" x="600.74" y="680.9" transform="rotate(.02 600.74 680.9)" text-anchor="middle" font-size="16.9">10<tspan dy="-5.8" font-size="11.8">−2</tspan></text>
<text class="t" x="413.6" y="484.84" transform="rotate(.02 413.6 484.84)" text-anchor="end" font-size="16.9">10<tspan dy="-5.8" font-size="11.8">−2</tspan></text>
<text class="t" x="636.57" y="680.9" transform="rotate(.02 636.57 680.9)" text-anchor="middle" font-size="16.9">10<tspan dy="-5.8" font-size="11.8">−1</tspan></text>
<text class="t" x="413.6" y="449.07" transform="rotate(.02 413.6 449.07)" text-anchor="end" font-size="16.9">10<tspan dy="-5.8" font-size="11.8">−1</tspan></text>
<text class="t" x="672.4" y="680.9" transform="rotate(.02 672.4 680.9)" text-anchor="middle" font-size="16.9">10<tspan dy="-5.8" font-size="11.8">0</tspan></text>
<text class="t" x="413.6" y="413.3" transform="rotate(.02 413.6 413.3)" text-anchor="end" font-size="16.9">10<tspan dy="-5.8" font-size="11.8">0</tspan></text>
<rect x="427.1" y="412.7" width="129.4" height="22.8" fill="#fff" stroke="#222" stroke-width="0.9"/>
<text class="t" x="429.7" y="429.6" transform="rotate(.02 429.7 429.6)" font-size="16.9">MAPE = 28.89%</text>
<text class="t" x="470.7" y="707.8" transform="rotate(.02 470.7 707.8)" font-size="18.1" font-style="italic">K</text>
<text class="t" x="482.6" y="713.4" transform="rotate(.02 482.6 713.4)" font-size="12.4">Field-measured</text>
<text class="t" x="575.1" y="707.8" transform="rotate(.02 575.1 707.8)" font-size="18.1">[cm/s]</text>
<g transform="translate(370.1 532.3) rotate(-90)">
<text class="t" x="-60.4" y="0" font-size="18.1" font-style="italic">K</text>
<text class="t" x="-48.5" y="5.9" font-size="12.4">Estimated</text>
<text class="t" x="12.2" y="0" font-size="18.1">[cm/s]</text>
</g>
</g>
<g id="panel-e">
<text class="s" x="-0.3" y="744.1" transform="rotate(.02 -0.3 744.1)" font-size="26">(e)</text>
<path class="g" d="M100.63 770.3V1020.7M172.29 770.3V1020.7M208.11 770.3V1020.7M243.94 770.3V1020.7M64.8 806.07H315.6M64.8 841.84H315.6M64.8 877.61H315.6M64.8 913.39H315.6M64.8 949.16H315.6M64.8 984.93H315.6"/>
<path class="h" d="M136.46 770.3V1020.7M279.77 770.3V1020.7"/>
<circle class="d" cx="225.4" cy="819.5" r="3.75"/>
<circle class="d" cx="194.9" cy="837.7" r="3.75"/>
<circle class="d" cx="215.3" cy="842.6" r="3.75"/>
<circle class="d" cx="191.1" cy="867.4" r="3.75"/>
<circle class="d" cx="199.1" cy="868.8" r="3.75"/>
<circle class="d" cx="209" cy="871.3" r="3.75"/>
<circle class="d" cx="225.5" cy="868.7" r="3.75"/>
<circle class="d" cx="195.6" cy="879.8" r="3.75"/>
<circle class="d" cx="217" cy="879.8" r="3.75"/>
<circle class="d" cx="229.9" cy="877.9" r="3.75"/>
<circle class="d" cx="184.9" cy="895.5" r="3.75"/>
<circle class="d" cx="185.2" cy="895.2" r="3.75"/>
<circle class="d" cx="194.6" cy="893.2" r="3.75"/>
<circle class="d" cx="202.3" cy="892.2" r="3.75"/>
<circle class="d" cx="201.3" cy="894.7" r="3.75"/>
<circle class="d" cx="198.7" cy="897.8" r="3.75"/>
<circle class="d" cx="213.8" cy="890.1" r="3.75"/>
<circle class="d" cx="223.2" cy="885" r="3.75"/>
<circle class="d" cx="234.5" cy="887" r="3.75"/>
<circle class="d" cx="180.8" cy="902.4" r="3.75"/>
<circle class="d" cx="207.9" cy="901.3" r="3.75"/>
<circle class="d" cx="222.7" cy="900.8" r="3.75"/>
<circle class="d" cx="235" cy="896.8" r="3.75"/>
<circle class="d" cx="193.6" cy="904.4" r="3.75"/>
<circle class="d" cx="199.2" cy="905.9" r="3.75"/>
<circle class="d" cx="199.7" cy="906.7" r="3.75"/>
<circle class="d" cx="213.8" cy="905.9" r="3.75"/>
<circle class="d" cx="185.9" cy="908" r="3.75"/>
<circle class="d" cx="184.9" cy="908.7" r="3.75"/>
<circle class="d" cx="181.9" cy="910" r="3.75"/>
<circle class="d" cx="169.1" cy="911.8" r="3.75"/>
<circle class="d" cx="228.9" cy="909.5" r="3.75"/>
<circle class="d" cx="221" cy="913.1" r="3.75"/>
<circle class="d" cx="226.3" cy="914.1" r="3.75"/>
<circle class="d" cx="207.4" cy="910.5" r="3.75"/>
<circle class="d" cx="195.1" cy="913.6" r="3.75"/>
<circle class="d" cx="198.7" cy="912.1" r="3.75"/>
<circle class="d" cx="202.3" cy="912.6" r="3.75"/>
<circle class="d" cx="199.7" cy="915.7" r="3.75"/>
<circle class="d" cx="196.7" cy="916.7" r="3.75"/>
<circle class="d" cx="203.3" cy="914.6" r="3.75"/>
<circle class="d" cx="197.7" cy="914.1" r="3.75"/>
<circle class="d" cx="200.8" cy="913.6" r="3.75"/>
<circle class="d" cx="199.2" cy="920.3" r="3.75"/>
<circle class="d" cx="179.3" cy="914.6" r="3.75"/>
<circle class="d" cx="178.3" cy="917.7" r="3.75"/>
<circle class="d" cx="210" cy="917.7" r="3.75"/>
<circle class="d" cx="188" cy="919.7" r="3.75"/>
<circle class="d" cx="182.4" cy="921.8" r="3.75"/>
<circle class="d" cx="204.9" cy="920.3" r="3.75"/>
<circle class="d" cx="213" cy="923.3" r="3.75"/>
<circle class="d" cx="212.5" cy="923.8" r="3.75"/>
<circle class="d" cx="223" cy="923.8" r="3.75"/>
<circle class="d" cx="221.7" cy="926.9" r="3.75"/>
<circle class="d" cx="190" cy="924.3" r="3.75"/>
<circle class="d" cx="189" cy="925.9" r="3.75"/>
<circle class="d" cx="200.8" cy="925.4" r="3.75"/>
<circle class="d" cx="200.3" cy="926.9" r="3.75"/>
<circle class="d" cx="234" cy="929.5" r="3.75"/>
<circle class="d" cx="188.5" cy="931.5" r="3.75"/>
<circle class="d" cx="196.2" cy="933" r="3.75"/>
<circle class="d" cx="195.7" cy="934" r="3.75"/>
<circle class="d" cx="175.7" cy="936.6" r="3.75"/>
<circle class="d" cx="197.7" cy="937.6" r="3.75"/>
<circle class="d" cx="218.1" cy="937.9" r="3.75"/>
<circle class="d" cx="206.9" cy="942" r="3.75"/>
<circle class="d" cx="196.7" cy="943" r="3.75"/>
<circle class="d" cx="195.7" cy="943.8" r="3.75"/>
<circle class="d" cx="184.9" cy="948.4" r="3.75"/>
<circle class="d" cx="180.8" cy="951.4" r="3.75"/>
<circle class="d" cx="195.7" cy="953" r="3.75"/>
<circle class="d" cx="196.2" cy="952.4" r="3.75"/>
<circle class="d" cx="164.3" cy="957.4" r="3.75"/>
<circle class="d" cx="174.8" cy="957.7" r="3.75"/>
<circle class="d" cx="168" cy="963.6" r="3.75"/>
<circle class="d" cx="194.5" cy="957" r="3.75"/>
<circle class="d" cx="200.1" cy="956.7" r="3.75"/>
<circle class="d" cx="209.9" cy="959.6" r="3.75"/>
<circle class="d" cx="196" cy="965.5" r="3.75"/>
<circle class="d" cx="200.4" cy="965.5" r="3.75"/>
<circle class="d" cx="186.5" cy="969.4" r="3.75"/>
<circle class="d" cx="186.9" cy="969.9" r="3.75"/>
<circle class="d" cx="197.9" cy="974.2" r="3.75"/>
<circle class="d" cx="189.4" cy="978.9" r="3.75"/>
<circle class="d" cx="226.2" cy="982.6" r="3.75"/>
<circle class="d" cx="232.9" cy="981.5" r="3.75"/>
<circle class="d" cx="206.9" cy="1001.5" r="3.75"/>
<path class="r" d="M64.8 1020.7L315.6 770.3"/>
<path class="k" d="M100.63 1020.7V1014.3M64.8 806.07H71.2M136.46 1020.7V1014.3M64.8 841.84H71.2M172.29 1020.7V1014.3M64.8 877.61H71.2M208.11 1020.7V1014.3M64.8 913.39H71.2M243.94 1020.7V1014.3M64.8 949.16H71.2M279.77 1020.7V1014.3M64.8 984.93H71.2"/>
<rect class="fr" x="64.8" y="770.3" width="250.8" height="250.4"/>
<text class="t" x="64.8" y="1044.1" transform="rotate(.02 64.8 1044.1)" text-anchor="middle" font-size="16.9">10<tspan dy="-5.8" font-size="11.8">−7</tspan></text>
<text class="t" x="56.8" y="1026.9" transform="rotate(.02 56.8 1026.9)" text-anchor="end" font-size="16.9">10<tspan dy="-5.8" font-size="11.8">−7</tspan></text>
<text class="t" x="100.63" y="1044.1" transform="rotate(.02 100.63 1044.1)" text-anchor="middle" font-size="16.9">10<tspan dy="-5.8" font-size="11.8">−6</tspan></text>
<text class="t" x="56.8" y="991.13" transform="rotate(.02 56.8 991.13)" text-anchor="end" font-size="16.9">10<tspan dy="-5.8" font-size="11.8">−6</tspan></text>
<text class="t" x="136.46" y="1044.1" transform="rotate(.02 136.46 1044.1)" text-anchor="middle" font-size="16.9">10<tspan dy="-5.8" font-size="11.8">−5</tspan></text>
<text class="t" x="56.8" y="955.36" transform="rotate(.02 56.8 955.36)" text-anchor="end" font-size="16.9">10<tspan dy="-5.8" font-size="11.8">−5</tspan></text>
<text class="t" x="172.29" y="1044.1" transform="rotate(.02 172.29 1044.1)" text-anchor="middle" font-size="16.9">10<tspan dy="-5.8" font-size="11.8">−4</tspan></text>
<text class="t" x="56.8" y="919.59" transform="rotate(.02 56.8 919.59)" text-anchor="end" font-size="16.9">10<tspan dy="-5.8" font-size="11.8">−4</tspan></text>
<text class="t" x="208.11" y="1044.1" transform="rotate(.02 208.11 1044.1)" text-anchor="middle" font-size="16.9">10<tspan dy="-5.8" font-size="11.8">−3</tspan></text>
<text class="t" x="56.8" y="883.81" transform="rotate(.02 56.8 883.81)" text-anchor="end" font-size="16.9">10<tspan dy="-5.8" font-size="11.8">−3</tspan></text>
<text class="t" x="243.94" y="1044.1" transform="rotate(.02 243.94 1044.1)" text-anchor="middle" font-size="16.9">10<tspan dy="-5.8" font-size="11.8">−2</tspan></text>
<text class="t" x="56.8" y="848.04" transform="rotate(.02 56.8 848.04)" text-anchor="end" font-size="16.9">10<tspan dy="-5.8" font-size="11.8">−2</tspan></text>
<text class="t" x="279.77" y="1044.1" transform="rotate(.02 279.77 1044.1)" text-anchor="middle" font-size="16.9">10<tspan dy="-5.8" font-size="11.8">−1</tspan></text>
<text class="t" x="56.8" y="812.27" transform="rotate(.02 56.8 812.27)" text-anchor="end" font-size="16.9">10<tspan dy="-5.8" font-size="11.8">−1</tspan></text>
<text class="t" x="315.6" y="1044.1" transform="rotate(.02 315.6 1044.1)" text-anchor="middle" font-size="16.9">10<tspan dy="-5.8" font-size="11.8">0</tspan></text>
<text class="t" x="56.8" y="776.5" transform="rotate(.02 56.8 776.5)" text-anchor="end" font-size="16.9">10<tspan dy="-5.8" font-size="11.8">0</tspan></text>
<rect x="70.3" y="775.9" width="129.4" height="22.8" fill="#fff" stroke="#222" stroke-width="0.9"/>
<text class="t" x="72.9" y="792.8" transform="rotate(.02 72.9 792.8)" font-size="16.9">MAPE = 38.56%</text>
<text class="t" x="113.9" y="1071" transform="rotate(.02 113.9 1071)" font-size="18.1" font-style="italic">K</text>
<text class="t" x="125.8" y="1076.6" transform="rotate(.02 125.8 1076.6)" font-size="12.4">Field-measured</text>
<text class="t" x="218.3" y="1071" transform="rotate(.02 218.3 1071)" font-size="18.1">[cm/s]</text>
<g transform="translate(13.3 895.5) rotate(-90)">
<text class="t" x="-60.4" y="0" font-size="18.1" font-style="italic">K</text>
<text class="t" x="-48.5" y="5.9" font-size="12.4">Estimated</text>
<text class="t" x="12.2" y="0" font-size="18.1">[cm/s]</text>
</g>
</g>
<g id="panel-f">
<text class="s" x="356.5" y="744.1" transform="rotate(.02 356.5 744.1)" font-size="26">(f)</text>
<path class="g" d="M457.43 770.3V1020.7M529.09 770.3V1020.7M564.91 770.3V1020.7M600.74 770.3V1020.7M421.6 806.07H672.4M421.6 841.84H672.4M421.6 877.61H672.4M421.6 913.39H672.4M421.6 949.16H672.4M421.6 984.93H672.4"/>
<path class="h" d="M493.26 770.3V1020.7M636.57 770.3V1020.7"/>
<circle class="d" cx="582.3" cy="821.9" r="3.75"/>
<circle class="d" cx="551.9" cy="833.6" r="3.75"/>
<circle class="d" cx="572.3" cy="836.9" r="3.75"/>
<circle class="d" cx="548.2" cy="852.8" r="3.75"/>
<circle class="d" cx="582.6" cy="852.6" r="3.75"/>
<circle class="d" cx="592" cy="868.3" r="3.75"/>
<circle class="d" cx="593.2" cy="875.5" r="3.75"/>
<circle class="d" cx="591.3" cy="887.6" r="3.75"/>
<circle class="d" cx="551.7" cy="859.6" r="3.75"/>
<circle class="d" cx="555.8" cy="858.6" r="3.75"/>
<circle class="d" cx="566" cy="859.1" r="3.75"/>
<circle class="d" cx="570.6" cy="864.7" r="3.75"/>
<circle class="d" cx="574.7" cy="860.6" r="3.75"/>
<circle class="d" cx="580.3" cy="861.1" r="3.75"/>
<circle class="d" cx="586.9" cy="861.6" r="3.75"/>
<circle class="d" cx="542" cy="867.8" r="3.75"/>
<circle class="d" cx="542.3" cy="867.5" r="3.75"/>
<circle class="d" cx="559.3" cy="866.2" r="3.75"/>
<circle class="d" cx="551.7" cy="869.8" r="3.75"/>
<circle class="d" cx="556.3" cy="869.8" r="3.75"/>
<circle class="d" cx="555.8" cy="870.3" r="3.75"/>
<circle class="d" cx="565.5" cy="871.9" r="3.75"/>
<circle class="d" cx="570.1" cy="875.4" r="3.75"/>
<circle class="d" cx="579.3" cy="874.4" r="3.75"/>
<circle class="d" cx="577.7" cy="878" r="3.75"/>
<circle class="d" cx="583.9" cy="878" r="3.75"/>
<circle class="d" cx="588" cy="876.5" r="3.75"/>
<circle class="d" cx="537.4" cy="874.9" r="3.75"/>
<circle class="d" cx="542" cy="875.4" r="3.75"/>
<circle class="d" cx="535.8" cy="879.5" r="3.75"/>
<circle class="d" cx="540.4" cy="880" r="3.75"/>
<circle class="d" cx="535.3" cy="883.1" r="3.75"/>
<circle class="d" cx="539.4" cy="883.6" r="3.75"/>
<circle class="d" cx="545" cy="882.6" r="3.75"/>
<circle class="d" cx="550.7" cy="874.9" r="3.75"/>
<circle class="d" cx="554.7" cy="873.9" r="3.75"/>
<circle class="d" cx="558.3" cy="878.5" r="3.75"/>
<circle class="d" cx="551.7" cy="879.5" r="3.75"/>
<circle class="d" cx="555.8" cy="882.6" r="3.75"/>
<circle class="d" cx="549.6" cy="884.1" r="3.75"/>
<circle class="d" cx="559.3" cy="885.7" r="3.75"/>
<circle class="d" cx="553.7" cy="887.7" r="3.75"/>
<circle class="d" cx="547.1" cy="889.7" r="3.75"/>
<circle class="d" cx="547.6" cy="889.2" r="3.75"/>
<circle class="d" cx="556.8" cy="890.8" r="3.75"/>
<circle class="d" cx="551.7" cy="893.8" r="3.75"/>
<circle class="d" cx="555.8" cy="895.9" r="3.75"/>
<circle class="d" cx="550.7" cy="897.9" r="3.75"/>
<circle class="d" cx="554.7" cy="878" r="3.75"/>
<circle class="d" cx="553.7" cy="883.6" r="3.75"/>
<circle class="d" cx="555.3" cy="886.7" r="3.75"/>
<circle class="d" cx="553.2" cy="891.3" r="3.75"/>
<circle class="d" cx="554.2" cy="894.3" r="3.75"/>
<circle class="d" cx="552.2" cy="896.4" r="3.75"/>
<circle class="d" cx="555.3" cy="897.9" r="3.75"/>
<circle class="d" cx="563.9" cy="883.6" r="3.75"/>
<circle class="d" cx="566" cy="885.7" r="3.75"/>
<circle class="d" cx="570.1" cy="885.1" r="3.75"/>
<circle class="d" cx="569.6" cy="884.6" r="3.75"/>
<circle class="d" cx="579.8" cy="888.2" r="3.75"/>
<circle class="d" cx="579.3" cy="887.7" r="3.75"/>
<circle class="d" cx="532.8" cy="892.3" r="3.75"/>
<circle class="d" cx="538.4" cy="890.8" r="3.75"/>
<circle class="d" cx="526.1" cy="895.4" r="3.75"/>
<circle class="d" cx="536.9" cy="898.9" r="3.75"/>
<circle class="d" cx="540.9" cy="897.9" r="3.75"/>
<circle class="d" cx="575.2" cy="896.4" r="3.75"/>
<circle class="d" cx="532.3" cy="904" r="3.75"/>
<circle class="d" cx="551.7" cy="902.5" r="3.75"/>
<circle class="d" cx="557.3" cy="903" r="3.75"/>
<circle class="d" cx="567" cy="903.5" r="3.75"/>
<circle class="d" cx="543" cy="908.6" r="3.75"/>
<circle class="d" cx="553.2" cy="908.6" r="3.75"/>
<circle class="d" cx="563.9" cy="909.7" r="3.75"/>
<circle class="d" cx="554.7" cy="914.8" r="3.75"/>
<circle class="d" cx="556.8" cy="917.3" r="3.75"/>
<circle class="d" cx="544.5" cy="920.9" r="3.75"/>
<circle class="d" cx="521.5" cy="919.9" r="3.75"/>
<circle class="d" cx="589.5" cy="916.3" r="3.75"/>
<circle class="d" cx="552.7" cy="925" r="3.75"/>
<circle class="d" cx="546.2" cy="929.3" r="3.75"/>
<circle class="d" cx="564" cy="928.3" r="3.75"/>
<circle class="d" cx="524.9" cy="937.8" r="3.75"/>
<circle class="d" cx="530.9" cy="942.9" r="3.75"/>
<circle class="d" cx="583.3" cy="957" r="3.75"/>
<path class="r" d="M421.6 1020.7L672.4 770.3"/>
<path class="k" d="M457.43 1020.7V1014.3M421.6 806.07H428M493.26 1020.7V1014.3M421.6 841.84H428M529.09 1020.7V1014.3M421.6 877.61H428M564.91 1020.7V1014.3M421.6 913.39H428M600.74 1020.7V1014.3M421.6 949.16H428M636.57 1020.7V1014.3M421.6 984.93H428"/>
<rect class="fr" x="421.6" y="770.3" width="250.8" height="250.4"/>
<text class="t" x="421.6" y="1044.1" transform="rotate(.02 421.6 1044.1)" text-anchor="middle" font-size="16.9">10<tspan dy="-5.8" font-size="11.8">−7</tspan></text>
<text class="t" x="413.6" y="1026.9" transform="rotate(.02 413.6 1026.9)" text-anchor="end" font-size="16.9">10<tspan dy="-5.8" font-size="11.8">−7</tspan></text>
<text class="t" x="457.43" y="1044.1" transform="rotate(.02 457.43 1044.1)" text-anchor="middle" font-size="16.9">10<tspan dy="-5.8" font-size="11.8">−6</tspan></text>
<text class="t" x="413.6" y="991.13" transform="rotate(.02 413.6 991.13)" text-anchor="end" font-size="16.9">10<tspan dy="-5.8" font-size="11.8">−6</tspan></text>
<text class="t" x="493.26" y="1044.1" transform="rotate(.02 493.26 1044.1)" text-anchor="middle" font-size="16.9">10<tspan dy="-5.8" font-size="11.8">−5</tspan></text>
<text class="t" x="413.6" y="955.36" transform="rotate(.02 413.6 955.36)" text-anchor="end" font-size="16.9">10<tspan dy="-5.8" font-size="11.8">−5</tspan></text>
<text class="t" x="529.09" y="1044.1" transform="rotate(.02 529.09 1044.1)" text-anchor="middle" font-size="16.9">10<tspan dy="-5.8" font-size="11.8">−4</tspan></text>
<text class="t" x="413.6" y="919.59" transform="rotate(.02 413.6 919.59)" text-anchor="end" font-size="16.9">10<tspan dy="-5.8" font-size="11.8">−4</tspan></text>
<text class="t" x="564.91" y="1044.1" transform="rotate(.02 564.91 1044.1)" text-anchor="middle" font-size="16.9">10<tspan dy="-5.8" font-size="11.8">−3</tspan></text>
<text class="t" x="413.6" y="883.81" transform="rotate(.02 413.6 883.81)" text-anchor="end" font-size="16.9">10<tspan dy="-5.8" font-size="11.8">−3</tspan></text>
<text class="t" x="600.74" y="1044.1" transform="rotate(.02 600.74 1044.1)" text-anchor="middle" font-size="16.9">10<tspan dy="-5.8" font-size="11.8">−2</tspan></text>
<text class="t" x="413.6" y="848.04" transform="rotate(.02 413.6 848.04)" text-anchor="end" font-size="16.9">10<tspan dy="-5.8" font-size="11.8">−2</tspan></text>
<text class="t" x="636.57" y="1044.1" transform="rotate(.02 636.57 1044.1)" text-anchor="middle" font-size="16.9">10<tspan dy="-5.8" font-size="11.8">−1</tspan></text>
<text class="t" x="413.6" y="812.27" transform="rotate(.02 413.6 812.27)" text-anchor="end" font-size="16.9">10<tspan dy="-5.8" font-size="11.8">−1</tspan></text>
<text class="t" x="672.4" y="1044.1" transform="rotate(.02 672.4 1044.1)" text-anchor="middle" font-size="16.9">10<tspan dy="-5.8" font-size="11.8">0</tspan></text>
<text class="t" x="413.6" y="776.5" transform="rotate(.02 413.6 776.5)" text-anchor="end" font-size="16.9">10<tspan dy="-5.8" font-size="11.8">0</tspan></text>
<rect x="427.1" y="775.9" width="129.4" height="22.8" fill="#fff" stroke="#222" stroke-width="0.9"/>
<text class="t" x="429.7" y="792.8" transform="rotate(.02 429.7 792.8)" font-size="16.9">MAPE = 17.38%</text>
<text class="t" x="470.7" y="1071" transform="rotate(.02 470.7 1071)" font-size="18.1" font-style="italic">K</text>
<text class="t" x="482.6" y="1076.6" transform="rotate(.02 482.6 1076.6)" font-size="12.4">Field-measured</text>
<text class="t" x="575.1" y="1071" transform="rotate(.02 575.1 1071)" font-size="18.1">[cm/s]</text>
<g transform="translate(370.1 895.5) rotate(-90)">
<text class="t" x="-60.4" y="0" font-size="18.1" font-style="italic">K</text>
<text class="t" x="-48.5" y="5.9" font-size="12.4">Estimated</text>
<text class="t" x="12.2" y="0" font-size="18.1">[cm/s]</text>
</g>
</g>
</svg>
</body></html>
